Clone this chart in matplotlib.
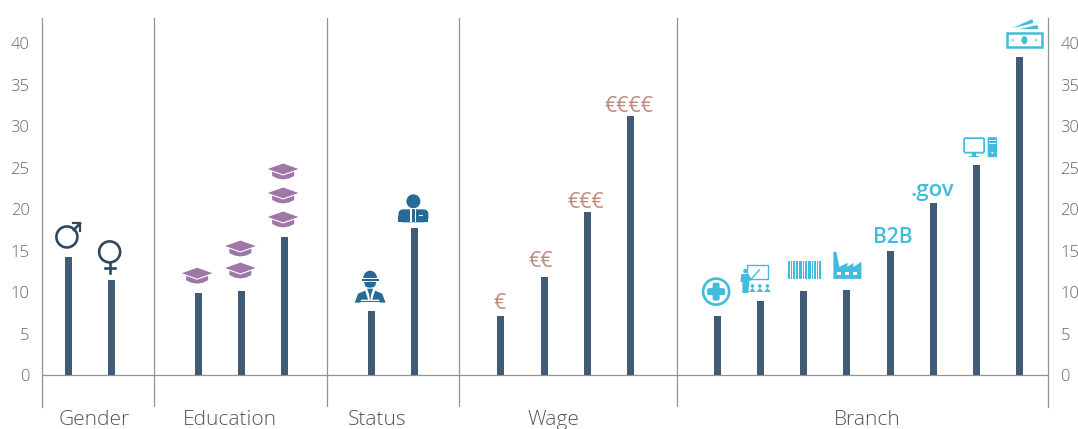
import numpy as np
import matplotlib
matplotlib.use("Agg")
import matplotlib.pyplot as plt
from matplotlib.patches import Circle, Ellipse, Polygon, Rectangle, FancyBboxPatch

# bar values per group
gender = [14.2, 11.5]
education = [9.9, 10.2, 16.7]
status = [7.8, 17.7]
wage = [7.1, 11.9, 19.7, 31.2]
branch = [7.2, 9.0, 10.2, 10.3, 15.0, 20.7, 25.3, 38.3]

group_names = ["Gender", "Education", "Status", "Wage", "Branch"]
y_ticks = [0, 5, 10, 15, 20, 25, 30, 35, 40]
wage_labels = ["€", "€€", "€€€", "€€€€"]

bar_color = "#3f5b75"
grey = "#939393"
text_color = "#666666"
cap_color = "#9e76a8"
job_color = "#256b96"
sign_color = "#2f4a60"
cyan = "#41bcdc"
euro_color = "#c08a7e"

plt.rcParams["font.family"] = ["Open Sans", "DejaVu Sans"]

W, H = 1078, 429
fig = plt.figure(figsize=(W / 100, H / 100), dpi=100)
ax = fig.add_axes([42 / W, 1 - 407 / H, (1048 - 42) / W, (407 - 18) / H])
ax.set_xlim(-0.61, 22.65)
ax.set_ylim(-3.79, 43.0)

# one empty slot between the groups
groups = [gender, education, status, wage, branch]
x_pos = []
heights = []
slot = 0
group_x = []
for g in groups:
    xs = list(range(slot, slot + len(g)))
    group_x.append(xs)
    x_pos += xs
    heights += g
    slot += len(g) + 1

ax.bar(x_pos, heights, width=0.165, color=bar_color, zorder=3)

ax.axhline(0, color=grey, lw=0.9, zorder=2)
for sep in [1.98, 5.99, 9.04, 14.07]:
    ax.axvline(sep, color=grey, lw=0.9)

for s in ["top", "bottom"]:
    ax.spines[s].set_visible(False)
for s in ["left", "right"]:
    ax.spines[s].set_color(grey)
    ax.spines[s].set_linewidth(0.9)

ax.set_xticks([])
ax.set_yticks(y_ticks)
ax.tick_params(axis="y", length=0, pad=9, labelsize=12, labelcolor=text_color,
               left=False, right=False, labelleft=True, labelright=True)
for lab in ax.get_yticklabels():
    lab.set_fontweight("light")

label_x = [0.6, 3.74, 7.15, 11.22, 18.48]
for name, lx in zip(group_names, label_x):
    ax.annotate(name, (lx, 0), xycoords=("data", "axes fraction"), xytext=(0, -13),
                textcoords="offset pixels", ha="center", va="center",
                fontsize=15, fontweight="light", color="#555555")

# overlay in image pixels for the little icons
ov = fig.add_axes([0, 0, 1, 1], facecolor="none")
ov.set_xlim(0, W)
ov.set_ylim(H, 0)
ov.axis("off")


def top_of(i, group):
    # pixel position of a bar's top
    x = group_x[group][i]
    v = groups[group][i]
    px, py = ax.transData.transform((x, v))
    return px, H - py


def add(p):
    ov.add_patch(p)


def male(cx, cy):
    add(Circle((cx, cy), 10.5, fc="none", ec=sign_color, lw=1.9))
    ov.plot([cx + 7, cx + 13], [cy - 7, cy - 13.5], color=sign_color, lw=1.9)
    ov.plot([cx + 6, cx + 13, cx + 13], [cy - 13.5, cy - 13.5, cy - 6], color=sign_color, lw=1.6)


def female(cx, cy):
    add(Circle((cx, cy), 10.5, fc="none", ec=sign_color, lw=1.9))
    ov.plot([cx, cx], [cy + 11, cy + 21], color=sign_color, lw=1.9)
    ov.plot([cx - 5, cx + 5], [cy + 16, cy + 16], color=sign_color, lw=1.9)


def cap(cx, cy):
    add(Polygon([(cx - 11, cy - 2), (cx + 11, cy - 2), (cx + 11, cy + 5), (cx + 6, cy + 7.5),
                 (cx, cy + 8.5), (cx - 6, cy + 7.5), (cx - 11, cy + 5)], fc=cap_color, ec="none"))
    add(Polygon([(cx - 17, cy - 2), (cx, cy - 8), (cx + 17, cy - 2), (cx, cy + 4)],
                fc=cap_color, ec="white", lw=0.8, joinstyle="miter"))


def worker(cx, cy):
    # helmet, face, shoulders
    add(Ellipse((cx, cy - 9), 14, 16, fc=job_color, ec="none"))
    add(Rectangle((cx - 8, cy - 9.5), 16, 1.2, fc="white", ec="none"))
    add(Rectangle((cx - 8.5, cy - 8.5), 17, 1.8, fc=job_color, ec="none"))
    add(Rectangle((cx - 7, cy - 6.7), 14, 1, fc="white", ec="none"))
    add(Ellipse((cx, cy - 3), 11, 6, fc=job_color, ec="none"))
    add(Polygon([(cx - 15.5, cy + 15), (cx - 12, cy + 6), (cx - 5, cy + 3), (cx - 2, cy + 12),
                 (cx - 9, cy + 12), (cx - 10, cy + 15)], fc=job_color, ec="none"))
    add(Polygon([(cx + 15.5, cy + 15), (cx + 12, cy + 6), (cx + 5, cy + 3), (cx + 2, cy + 12),
                 (cx + 9, cy + 12), (cx + 10, cy + 15)], fc=job_color, ec="none"))
    add(Polygon([(cx - 3, cy + 1), (cx + 3, cy + 1), (cx + 1, cy + 7), (cx, cy + 14), (cx - 1, cy + 7)],
                fc=job_color, ec="none"))
    ov.plot([cx - 10, cx + 10], [cy + 13, cy + 13], color=job_color, lw=0.7)


def suit(cx, cy):
    # cy is the top of the shoulders
    add(Ellipse((cx, cy - 7), 14, 14, fc=job_color, ec="none"))
    add(FancyBboxPatch((cx - 15, cy + 1), 30, 13, boxstyle="round,pad=0,rounding_size=5", fc=job_color, ec="none"))
    add(Rectangle((cx - 15, cy + 8), 30, 6, fc=job_color, ec="none"))
    add(Rectangle((cx - 3, cy), 6, 14, fc="white", ec="none"))
    add(Rectangle((cx - 1.5, cy + 1), 3, 13, fc=job_color, ec="none"))
    add(Rectangle((cx + 6, cy + 7), 4, 1, fc="white", ec="none"))


def medical(cx, cy):
    add(Circle((cx, cy), 13, fc="none", ec=cyan, lw=1.9))
    add(FancyBboxPatch((cx - 9, cy - 3.5), 18, 7, boxstyle="round,pad=0,rounding_size=2", fc=cyan, ec="none"))
    add(FancyBboxPatch((cx - 3.5, cy - 9), 7, 18, boxstyle="round,pad=0,rounding_size=2", fc=cyan, ec="none"))


def teacher(cx, cy):
    add(Rectangle((cx - 8.5, cy - 13), 21, 14, fc="none", ec=cyan, lw=1.0))
    add(Circle((cx - 10, cy - 7), 2.2, fc=cyan, ec="none"))
    add(Polygon([(cx - 15, cy + 4), (cx - 14, cy - 4), (cx - 7, cy - 4), (cx - 4, cy + 1), (cx - 6, cy + 3),
                 (cx - 7, cy + 15), (cx - 13, cy + 15), (cx - 13, cy + 4)], fc=cyan, ec="none"))
    ov.plot([cx - 5, cx + 4], [cy + 2, cy - 8], color=cyan, lw=1.0)
    for k in (0, 7.5, 15):
        add(Circle((cx - 3 + k, cy + 8), 1.8, fc=cyan, ec="none"))
        add(Polygon([(cx - 6.5 + k, cy + 14), (cx - 3 + k, cy + 10), (cx + 0.5 + k, cy + 14)], fc=cyan, ec="none"))


def barcode(cx, cy):
    # stripe widths along the code
    widths = [2, 1, 1, 1, 2, 1, 2, 1, 3, 1, 1, 1, 2, 1, 3, 1, 1, 1, 2, 1, 1, 1, 2]
    x = cx - 16.5
    for k, w in enumerate(widths):
        if k % 2 == 0:
            add(Rectangle((x, cy - 9), w, 18, fc=cyan, ec="none"))
        x += w


def factory(cx, cy):
    add(Polygon([(cx - 14, cy + 14), (cx - 14, cy - 13), (cx - 11, cy - 13), (cx - 8, cy + 2), (cx, cy - 2), (cx, cy + 2),
                 (cx + 6, cy - 2), (cx + 6, cy + 2), (cx + 14, cy - 3), (cx + 14, cy + 14)], fc=cyan, ec="none"))
    for k in (-10, -2, 6):
        add(Rectangle((cx + k, cy + 7), 4, 3, fc="white", ec="none"))


def computer(cx, cy):
    add(FancyBboxPatch((cx - 15.5, cy - 9), 20, 14.5, boxstyle="round,pad=0,rounding_size=1.5", fc="none", ec=cyan, lw=1.3))
    add(Rectangle((cx - 8, cy + 6), 4, 2.5, fc=cyan, ec="none"))
    add(Rectangle((cx - 11, cy + 8.5), 10, 1.8, fc=cyan, ec="none"))
    add(FancyBboxPatch((cx + 8, cy - 10), 9.5, 20, boxstyle="round,pad=0,rounding_size=1", fc=cyan, ec="none"))
    add(Rectangle((cx + 9.5, cy - 7.5), 6.5, 1.2, fc="white", ec="none"))
    add(Rectangle((cx + 9.5, cy - 4.5), 6.5, 1.2, fc="white", ec="none"))
    add(Circle((cx + 12.7, cy + 5.5), 1, fc="white", ec="none"))


def money(cx, cy):
    add(Rectangle((cx - 17, cy - 3), 35, 14, fc="none", ec=cyan, lw=1.8))
    add(Ellipse((cx + 0.5, cy + 4), 6, 8, fc=cyan, ec="none"))
    add(Circle((cx - 11, cy + 4), 0.9, fc=cyan, ec="none"))
    add(Circle((cx + 12, cy + 4), 0.9, fc=cyan, ec="none"))
    add(Polygon([(cx - 11.5, cy - 8), (cx + 8.5, cy - 17), (cx + 9.5, cy - 13)], fc=cyan, ec="none"))
    add(Polygon([(cx - 4.5, cy - 7), (cx + 13.5, cy - 11), (cx + 14.5, cy - 7)], fc=cyan, ec="none"))


# gender
px, py = top_of(0, 0)
male(px - 1.5, py - 20.5)
px, py = top_of(1, 0)
female(px - 2, py - 28)

# education: one, two, three caps
px, py = top_of(0, 1)
cap(px - 1, py - 18)
px, py = top_of(1, 1)
cap(px - 1, py - 20.7)
cap(px - 1, py - 42.7)
px, py = top_of(2, 1)
cap(px - 1.5, py - 17.7)
cap(px - 1.5, py - 41.7)
cap(px - 1.5, py - 65.7)

# status
px, py = top_of(0, 2)
worker(px - 1, py - 23)
px, py = top_of(1, 2)
suit(px - 1, py - 20)

# wage
wage_dx = [-1, -3, -2, -2]
wage_dy = [-13, -15, -9, -10]
for i, lab in enumerate(wage_labels):
    px, py = top_of(i, 3)
    ov.text(px + wage_dx[i], py + wage_dy[i], lab, ha="center", va="center",
            fontsize=15.5, color=euro_color)

# branch
px, py = top_of(0, 4)
medical(px - 1, py - 24)
px, py = top_of(1, 4)
teacher(px - 5, py - 22.7)
px, py = top_of(2, 4)
barcode(px + 1, py - 20.7)
px, py = top_of(3, 4)
factory(px + 0.5, py - 25)
px, py = top_of(4, 4)
ov.text(px + 3, py - 13, "B2B", ha="center", va="center", fontsize=15, color=cyan, fontweight="semibold")
px, py = top_of(5, 4)
ov.text(px - 1, py - 13, ".gov", ha="center", va="center", fontsize=16, color=cyan, fontweight="semibold")
px, py = top_of(6, 4)
computer(px + 3, py - 18)
px, py = top_of(7, 4)
money(px + 4, py - 21)

fig.savefig("out.png", dpi=100)
